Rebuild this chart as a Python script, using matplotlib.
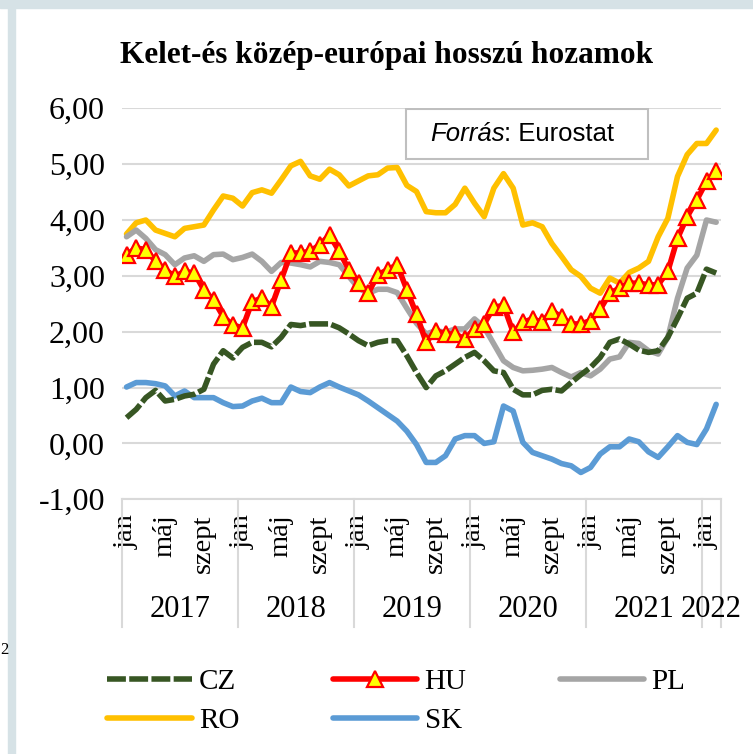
import matplotlib
matplotlib.use("Agg")
import matplotlib.pyplot as plt
import matplotlib.transforms as mtransforms
from matplotlib.patches import Rectangle

# monthly values, Jan 2017 - Feb 2022
cz = [0.46, 0.61, 0.82, 0.95, 0.76, 0.79, 0.85, 0.88, 0.97, 1.42, 1.66, 1.53,
      1.72, 1.81, 1.81, 1.73, 1.90, 2.13, 2.11, 2.14, 2.14, 2.14, 2.07, 1.96,
      1.84, 1.75, 1.81, 1.84, 1.84, 1.57, 1.27, 1.00, 1.21, 1.30, 1.42, 1.54,
      1.63, 1.48, 1.30, 1.27, 0.97, 0.87, 0.87, 0.95, 0.97, 0.94, 1.09, 1.23,
      1.36, 1.54, 1.81, 1.87, 1.78, 1.67, 1.63, 1.66, 1.90, 2.24, 2.60, 2.69,
      3.12, 3.05]
hu = [3.38, 3.50, 3.47, 3.26, 3.11, 2.99, 3.08, 3.05, 2.75, 2.57, 2.27, 2.12,
      2.07, 2.54, 2.60, 2.45, 2.93, 3.41, 3.41, 3.44, 3.56, 3.73, 3.44, 3.11,
      2.87, 2.69, 3.02, 3.11, 3.20, 2.75, 2.31, 1.81, 2.02, 1.96, 1.96, 1.87,
      2.05, 2.14, 2.44, 2.47, 1.99, 2.17, 2.23, 2.17, 2.38, 2.26, 2.14, 2.14,
      2.20, 2.40, 2.69, 2.78, 2.87, 2.87, 2.84, 2.84, 3.08, 3.67, 4.06, 4.36,
      4.69, 4.87]
pl = [3.70, 3.82, 3.67, 3.47, 3.38, 3.20, 3.32, 3.36, 3.26, 3.38, 3.39, 3.29,
      3.33, 3.39, 3.26, 3.08, 3.24, 3.23, 3.20, 3.16, 3.26, 3.24, 3.20, 2.99,
      2.78, 2.69, 2.76, 2.76, 2.70, 2.42, 2.15, 1.96, 2.02, 1.99, 2.05, 2.05,
      2.23, 2.08, 1.78, 1.48, 1.36, 1.30, 1.31, 1.33, 1.36, 1.27, 1.19, 1.27,
      1.21, 1.33, 1.51, 1.55, 1.81, 1.79, 1.66, 1.60, 1.90, 2.60, 3.14, 3.37,
      4.00, 3.96]
ro = [3.75, 3.95, 4.00, 3.82, 3.76, 3.70, 3.85, 3.88, 3.91, 4.18, 4.43, 4.39,
      4.25, 4.49, 4.54, 4.48, 4.72, 4.97, 5.05, 4.79, 4.73, 4.91, 4.81, 4.61,
      4.70, 4.79, 4.81, 4.93, 4.94, 4.62, 4.51, 4.15, 4.13, 4.13, 4.28, 4.57,
      4.30, 4.06, 4.57, 4.83, 4.57, 3.91, 3.95, 3.88, 3.58, 3.35, 3.11, 2.99,
      2.78, 2.69, 2.96, 2.87, 3.06, 3.14, 3.26, 3.70, 4.03, 4.78, 5.17, 5.37,
      5.37, 5.61]
sk = [1.01, 1.09, 1.09, 1.07, 1.03, 0.85, 0.94, 0.82, 0.82, 0.82, 0.73, 0.66,
      0.67, 0.76, 0.81, 0.73, 0.73, 1.01, 0.93, 0.91, 1.01, 1.09, 1.01, 0.94,
      0.87, 0.76, 0.64, 0.52, 0.40, 0.22, -0.02, -0.34, -0.34, -0.22, 0.08, 0.14,
      0.14, 0.00, 0.03, 0.67, 0.58, 0.02, -0.16, -0.22, -0.28, -0.36, -0.40, -0.52,
      -0.43, -0.19, -0.06, -0.06, 0.08, 0.03, -0.15, -0.25, -0.06, 0.14, 0.02, -0.02,
      0.26, 0.70]

years = ["2017", "2018", "2019", "2020", "2021", "2022"]
year_months = [12, 12, 12, 12, 12, 2]
month_labels = ["jan", "máj", "szept"]
y_ticks = [-1, 0, 1, 2, 3, 4, 5, 6]

plt.rcParams['font.family'] = ['Liberation Serif', 'DejaVu Serif']

W, H = 753, 754
fig = plt.figure(figsize=(W / 100, H / 100), dpi=100)

# frame strips of the screenshot
fig.patches.append(Rectangle((8 / W, 0), 7 / W, 1, transform=fig.transFigure,
                             color="#d6e2e6", zorder=0))
fig.patches.append(Rectangle((0, 1 - 8 / H), 1, 8 / H, transform=fig.transFigure,
                             color="#d6e2e6", zorder=0))
fig.text(0.5 / W, 1 - 650 / H, "2", ha="left", va="center", fontsize=12)

left, right, top, bottom = 121.7, 721.0, 108.3, 499.3
ax = fig.add_axes([left / W, 1 - bottom / H, (right - left) / W, (bottom - top) / H])

n = len(cz)
x = [i + 0.5 for i in range(n)]

ax.plot(x, sk, color="#5b9bd5", lw=4, solid_capstyle="round", solid_joinstyle="round", zorder=3)
ax.plot(x, ro, color="#ffc000", lw=4, solid_capstyle="round", solid_joinstyle="round", zorder=3)
ax.plot(x, pl, color="#a5a5a5", lw=4, solid_capstyle="round", solid_joinstyle="round", zorder=3)
cz_line, = ax.plot(x, cz, color="#375623", lw=4, zorder=3)
cz_line.set_dashes((3.4, 0.6))
cz_line.set_dash_capstyle("butt")
cz_line.set_dash_joinstyle("round")
ax.plot(x, hu, color="#ff0000", lw=4, solid_capstyle="round", solid_joinstyle="round",
        marker="^", markersize=11, markerfacecolor="#ffff00", markeredgecolor="#ff0000",
        markeredgewidth=1.6, zorder=4)

ax.set_xlim(0, n)
ax.set_ylim(-1, 6)
ax.set_yticks(y_ticks)
ax.set_yticklabels([f"{v:.2f}".replace(".", ",") for v in y_ticks], fontsize=23)
ax.grid(axis="y", color="#d9d9d9", lw=1.5)
ax.set_axisbelow(True)
for s in ["top", "right", "left"]:
    ax.spines[s].set_visible(False)
ax.spines["bottom"].set_color("#d9d9d9")
ax.spines["bottom"].set_linewidth(1.5)
ax.tick_params(axis="y", length=0, pad=12)

# month labels (every 4th month)
tick_pos = [i + 0.5 for i in range(0, n, 4)]
tick_lab = [month_labels[(i % 12) // 4] for i in range(0, n, 4)]
ax.set_xticks(tick_pos)
ax.set_xticklabels(tick_lab, rotation=90, fontsize=20.5)
ax.tick_params(axis="x", length=0, pad=11)

# year level of the axis
trans = mtransforms.blended_transform_factory(ax.transData, ax.transAxes)
start = 0
bounds = [0]
for yr, m in zip(years, year_months):
    ax.text(start + m / 2, -0.283, yr, transform=trans, ha="center", va="center",
            fontsize=22)
    start += m
    bounds.append(start)
for b in bounds:
    ax.plot([b, b], [0, -0.327], transform=trans, color="#d9d9d9", lw=1.5,
            clip_on=False)

# source box
ax.add_patch(Rectangle((0.474, 0.870), 0.404, 0.128, transform=ax.transAxes,
                       facecolor="white", edgecolor="#bfbfbf", lw=1.5, zorder=2))
t1 = ax.text(0.514, 0.933, "Forrás", transform=ax.transAxes, ha="left", va="center",
             fontsize=18.5, style="italic", family="Liberation Sans", zorder=5)
ax.annotate(": Eurostat", xy=(1, 0), xycoords=t1, ha="left", va="bottom",
            fontsize=18.5, family="Liberation Sans", zorder=5)

fig.text(387 / W, 1 - 56 / H, "Kelet-és közép-európai hosszú hozamok",
         ha="center", va="center", fontsize=22.5, fontweight="bold")

# legend, row-major order CZ HU PL / RO SK
h_sk, h_ro, h_pl, h_cz, h_hu = ax.get_lines()[:5]
leg = fig.legend([h_cz, h_ro, h_hu, h_sk, h_pl], ["CZ", "RO", "HU", "SK", "PL"],
                 ncol=3, frameon=False, fontsize=21, loc="upper left",
                 bbox_to_anchor=(107 / W, 1 - 669 / H), borderpad=0, borderaxespad=0,
                 handlelength=2.9, handletextpad=0.25, columnspacing=3.2,
                 labelspacing=0.42, markerscale=1.0)

fig.savefig("out.png", dpi=100)
